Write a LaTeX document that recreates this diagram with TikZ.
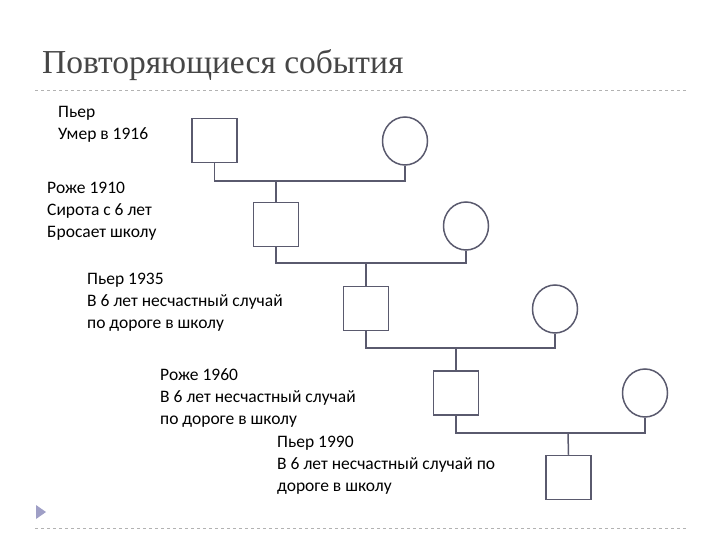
\documentclass[tikz,border=0pt]{standalone}
\usepackage{fontspec}
\setmainfont{Carlito}
\newfontfamily\titlefont{Liberation Serif}
\usetikzlibrary{shapes.geometric}
\definecolor{ln}{RGB}{90,90,110}
\definecolor{tt}{RGB}{70,70,70}
\begin{document}
\begin{tikzpicture}[x=1pt,y=-1pt,
  sq/.style={draw=ln,line width=1.5pt,minimum width=45pt,minimum height=44pt,inner sep=0},
  ci/.style={draw=ln,line width=1.5pt,ellipse,minimum width=45pt,minimum height=48pt,inner sep=0},
  con/.style={draw=ln,line width=1.5pt},
  lbl/.style={anchor=north west,align=left,font=\fontsize{17.5}{22}\selectfont,inner sep=0}]
\useasboundingbox (0,0) rectangle (720,540);
\node[anchor=west,text=tt,font=\titlefont\fontsize{33.5}{36}\selectfont,inner sep=0] (title) at (42,65) {Повторяющиеся события};
\draw[gray!60,dashed,line width=0.6pt] (35,90) -- (688,90);
\draw[gray!60,dashed,line width=0.6pt] (35,528) -- (688,528);
\fill[blue!25!gray!60] (36,505) -- (46,512) -- (36,519) -- cycle;
\node[sq] (s1) at (214.5,140.5) {};
\node[ci] (c1) at (405,141) {};
\node[sq] (s2) at (276,224.5) {};
\node[ci] (c2) at (466,226) {};
\node[sq] (s3) at (366,308.5) {};
\node[ci] (c3) at (555,309) {};
\node[sq] (s4) at (456,393) {};
\node[ci] (c4) at (645,393) {};
\node[sq] (s5) at (568.5,477.5) {};
\coordinate (m1) at (276,181);
\coordinate (m2) at (366,263);
\coordinate (m3) at (456,348);
\coordinate (m4) at (568,433);
\draw[con] (s1.south) |- (m1) -| (c1.south);
\draw[con] (m1) -- (s2.north);
\draw[con] (s2.south) |- (m2) -| (c2.south);
\draw[con] (m2) -- (s3.north);
\draw[con] (s3.south) |- (m3) -| (c3.south);
\draw[con] (m3) -- (s4.north);
\draw[con] (s4.south) |- (m4) -| (c4.south);
\draw[con] (m4) -- (s5.north);
\node[lbl] (t1) at (58,106) {Пьер\\Умер в 1916};
\node[lbl] (t2) at (47,182) {Роже 1910\\Сирота с 6 лет\\Бросает школу};
\node[lbl] (t3) at (87,273) {Пьер 1935\\В 6 лет несчастный случай\\по дороге в школу};
\node[lbl] (t4) at (160,368) {Роже 1960\\В 6 лет несчастный случай\\по дороге в школу};
\node[lbl] (t5) at (277,436) {Пьер 1990\\В 6 лет несчастный случай по\\дороге в школу};
\end{tikzpicture}
\end{document}
